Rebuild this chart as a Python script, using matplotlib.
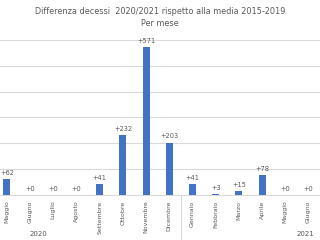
import matplotlib.pyplot as plt
import matplotlib.transforms as mtransforms

months = ["Maggio", "Giugno", "Luglio", "Agosto", "Settembre", "Ottobre",
          "Novembre", "Dicembre", "Gennaio", "Febbraio", "Marzo", "Aprile",
          "Maggio", "Giugno"]
values = [62, 0, 0, 0, 41, 232, 571, 203, 41, 3, 15, 78, 0, 0]
years = ["2020", "2021"]

gray = "#595959"
fig = plt.figure(figsize=(3.2, 2.4), dpi=100)
ax = fig.add_axes([0, 45 / 240, 1, 155 / 240])

x = list(range(len(values)))
ax.bar(x, values, width=0.3, color="#4472C4", zorder=3)
for xi, v in zip(x, values):
    ax.text(xi, v + 12, f"+{v}", ha="center", va="bottom", fontsize=4.8,
            color=gray, clip_on=False)

ax.set_xlim(-0.3, 13.5)
ax.set_ylim(0, 600)
ax.set_yticks(range(0, 700, 100))
ax.yaxis.grid(True, color="#d9d9d9", linewidth=0.8, zorder=0)
ax.tick_params(axis="y", left=False, labelleft=False)
for s in ["top", "left", "right"]:
    ax.spines[s].set_visible(False)
ax.spines["bottom"].set_color("#d9d9d9")

ax.set_xticks(x)
ax.set_xticklabels(months, rotation=90, fontsize=4.5, color=gray)
ax.tick_params(axis="x", length=0, pad=4)

# group separator and year labels
trans = mtransforms.blended_transform_factory(ax.transData, fig.transFigure)
ax.plot([7.5, 7.5], [0, 45 / 240], color="#d9d9d9", linewidth=0.8,
        transform=trans, clip_on=False)
fig.text(38 / 320, 3 / 240, years[0], fontsize=5, color=gray, ha="center", va="bottom")
fig.text(305 / 320, 3 / 240, years[1], fontsize=5, color=gray, ha="center", va="bottom")

fig.text(0.5, 1 - 12 / 240, "Differenza decessi  2020/2021 rispetto alla media 2015-2019",
         fontsize=5.9, color=gray, ha="center", va="center")
fig.text(0.5, 1 - 24 / 240, "Per mese", fontsize=5.9, color=gray, ha="center", va="center")

fig.savefig("out.png", dpi=100)
